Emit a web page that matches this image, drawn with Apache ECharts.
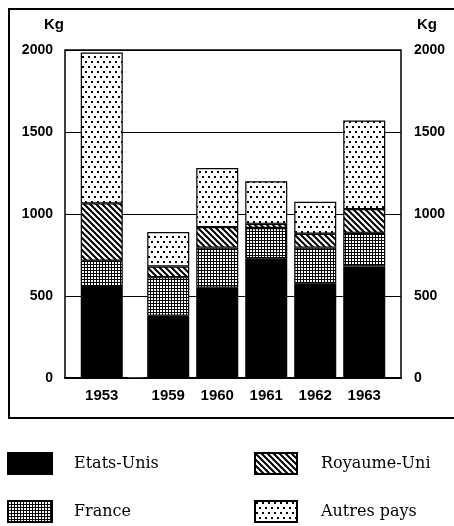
<!DOCTYPE html>
<html>
<head>
<meta charset="utf-8">
<script src="https://cdn.jsdelivr.net/npm/echarts@6/dist/echarts.min.js"></script>
<style>
  html, body { margin: 0; padding: 0; background: #fff; }
  #main { width: 454px; height: 526px; }
</style>
</head>
<body>
<div id="main"></div>
<script>
var years = [1953, 1959, 1960, 1961, 1962, 1963];
var etatsUnis = [555, 380, 550, 730, 575, 680];
var france = [160, 235, 245, 185, 220, 205];
var royaumeUni = [350, 65, 125, 25, 85, 145];
var autresPays = [920, 210, 360, 260, 195, 540];
var yTicks = [0, 500, 1000, 1500, 2000];

// motifs de remplissage
function motif(w, h, draw) {
  var c = document.createElement("canvas");
  c.width = w;
  c.height = h;
  var ctx = c.getContext("2d");
  ctx.fillStyle = "#fff";
  ctx.fillRect(0, 0, w, h);
  ctx.fillStyle = "#000";
  ctx.strokeStyle = "#000";
  draw(ctx);
  return { image: c, repeat: "repeat" };
}
var quadrillage = motif(3, 3, function (ctx) {
  ctx.fillRect(0, 0, 3, 1);
  ctx.fillRect(0, 0, 1, 3);
});
var hachures = motif(6, 6, function (ctx) {
  ctx.lineWidth = 2;
  ctx.beginPath();
  ctx.moveTo(-2, -2); ctx.lineTo(8, 8);
  ctx.moveTo(-8, -2); ctx.lineTo(2, 8);
  ctx.moveTo(4, -2); ctx.lineTo(14, 8);
  ctx.stroke();
});
var points = motif(6, 10, function (ctx) {
  ctx.fillRect(1, 1, 2, 2);
  ctx.fillRect(4, 6, 2, 2);
});

// valeur d'abord (dimension empilée), année ensuite
function pairs(vals) {
  return years.map(function (y, i) { return [vals[i], y]; });
}

var myChart = echarts.init(document.getElementById("main"));
var axisFont = { color: "#000", fontSize: 14, fontWeight: "bold", fontFamily: "Liberation Sans" };
var plain = function (v) { return String(v); };

function serie(name, vals, color) {
  return {
    name: name,
    type: "bar",
    stack: "total",
    barWidth: 42,
    encode: { x: 1, y: 0 },
    data: pairs(vals),
    itemStyle: { color: color, borderColor: "#000", borderWidth: 1.2 },
  };
}

var option = {
  animation: false,
  grid: {
    left: 65, right: 53, top: 50, bottom: 148,
    show: true, borderColor: "#000", borderWidth: 1.5,
  },
  xAxis: {
    type: "value",
    min: 1952.25,
    max: 1963.75,
    breaks: [{ start: 1953.5, end: 1958.5, gap: 0.357 }],
    breakArea: { show: false },
    axisLine: { show: true, lineStyle: { color: "#000", width: 2 } },
    axisTick: { show: false },
    splitLine: { show: false },
    axisLabel: Object.assign({}, axisFont, { customValues: years, margin: 10, fontSize: 15, formatter: plain }),
  },
  yAxis: [
    {
      type: "value", position: "left", min: 0, max: 2000, interval: 500,
      name: "Kg", nameLocation: "end", nameGap: 18,
      nameTextStyle: { color: "#000", fontSize: 15, fontWeight: "bold", fontFamily: "Liberation Sans", align: "right", padding: [0, 1, 0, 0] },
      axisLine: { show: false }, axisTick: { show: false },
      splitLine: { lineStyle: { color: "#000", width: 1.2 } },
      axisLabel: Object.assign({ margin: 12, customValues: yTicks, formatter: plain }, axisFont),
    },
    {
      type: "value", position: "right", min: 0, max: 2000, interval: 500,
      name: "Kg", nameLocation: "end", nameGap: 18,
      nameTextStyle: { color: "#000", fontSize: 15, fontWeight: "bold", fontFamily: "Liberation Sans", align: "left", padding: [0, 0, 0, 16] },
      axisLine: { show: false }, axisTick: { show: false },
      splitLine: { show: false },
      axisLabel: Object.assign({ margin: 13, customValues: yTicks, formatter: plain }, axisFont),
    },
  ],
  legend: [
    {
      data: ["Etats-Unis", "France"],
      orient: "vertical", left: 7, top: 452, padding: 0,
      itemWidth: 44, itemHeight: 21, itemGap: 25, icon: "rect",
      textStyle: { color: "#000", fontSize: 16, fontFamily: "DejaVu Serif", padding: [0, 0, 0, 17] },
    },
    {
      data: ["Royaume-Uni", "Autres pays"],
      orient: "vertical", left: 254, top: 452, padding: 0,
      itemWidth: 42, itemHeight: 21, itemGap: 25, icon: "rect",
      textStyle: { color: "#000", fontSize: 16, fontFamily: "DejaVu Serif", padding: [0, 0, 0, 19] },
    },
  ],
  graphic: [
    {
      type: "rect", silent: true,
      shape: { x: 9, y: 9, width: 470, height: 409 },
      style: { fill: "none", stroke: "#000", lineWidth: 2 },
    },
  ],
  series: [
    serie("Etats-Unis", etatsUnis, "#000"),
    serie("France", france, quadrillage),
    serie("Royaume-Uni", royaumeUni, hachures),
    serie("Autres pays", autresPays, points),
  ],
};

myChart.setOption(option);
</script>
</body>
</html>
